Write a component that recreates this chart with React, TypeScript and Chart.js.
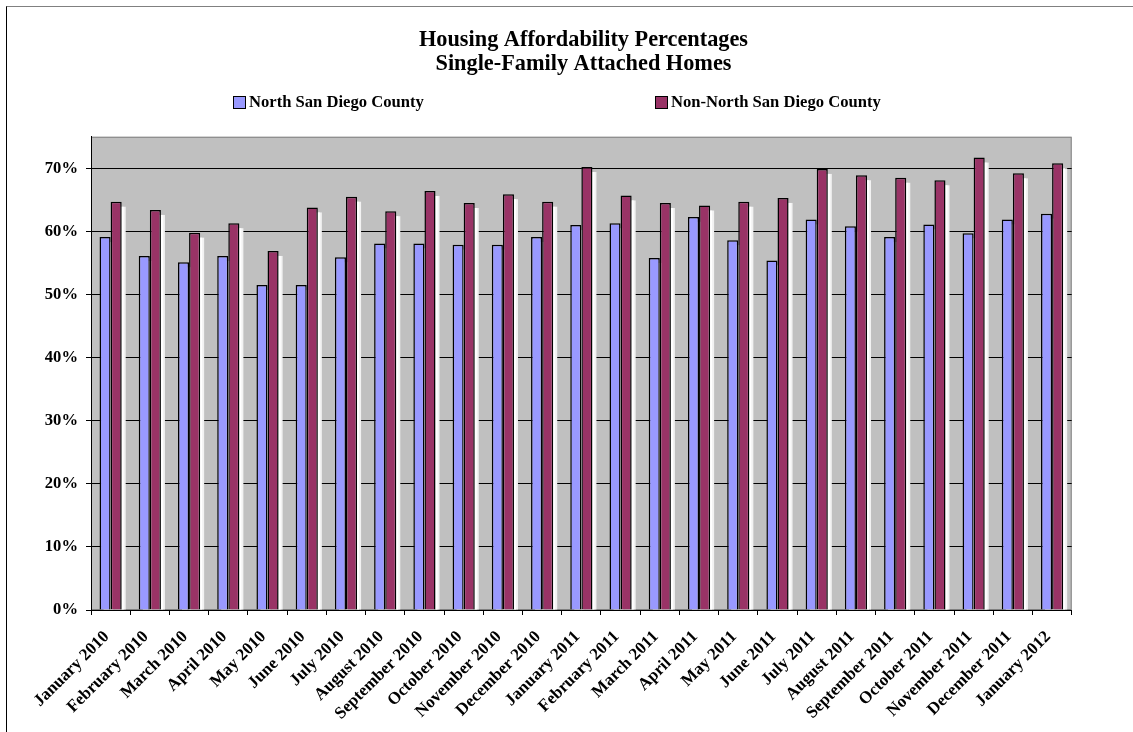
import React, { useEffect, useRef } from "react";
import { Chart, registerables } from "chart.js";

Chart.register(...registerables);

const categories = [
  "January 2010", "February 2010", "March 2010", "April 2010", "May 2010", "June 2010",
  "July 2010", "August 2010", "September 2010", "October 2010", "November 2010", "December 2010",
  "January 2011", "February 2011", "March 2011", "April 2011", "May 2011", "June 2011",
  "July 2011", "August 2011", "September 2011", "October 2011", "November 2011", "December 2011",
  "January 2012",
];

const northValues = [
  59.1, 56.1, 55.1, 56.1, 51.5, 51.5, 55.9, 58.1, 58.1, 57.9, 57.9, 59.1,
  61.0, 61.3, 55.8, 62.3, 58.6, 55.4, 61.9, 60.8, 59.1, 61.1, 59.7, 61.9, 62.8,
];

const nonNorthValues = [
  64.7, 63.4, 59.8, 61.3, 56.9, 63.8, 65.5, 63.2, 66.4, 64.5, 65.9, 64.7,
  70.2, 65.7, 64.5, 64.1, 64.7, 65.3, 69.9, 68.9, 68.5, 68.1, 71.7, 69.2, 70.8,
];

const seriesLabels = ["North San Diego County", "Non-North San Diego County"];
const seriesColors = ["#9999FF", "#993366"];
const titleLines = ["Housing Affordability Percentages", "Single-Family Attached Homes"];

const FONT = "'Liberation Serif', 'Times New Roman', serif";

const plotBgPlugin = {
  id: "plotBg",
  beforeDraw(chart: any) {
    const { ctx, chartArea } = chart;
    if (!chartArea) return;
    ctx.save();
    ctx.fillStyle = "#C0C0C0";
    ctx.fillRect(chartArea.left, chartArea.top, chartArea.right - chartArea.left, chartArea.bottom - chartArea.top);
    ctx.strokeStyle = "#808080";
    ctx.lineWidth = 1;
    ctx.strokeRect(chartArea.left + 0.5, chartArea.top + 0.5, chartArea.right - chartArea.left - 1, chartArea.bottom - chartArea.top - 1);
    ctx.restore();
  },
  beforeDatasetsDraw(chart: any) {
    const { ctx, chartArea } = chart;
    ctx.save();
    ctx.beginPath();
    ctx.rect(chartArea.left, chartArea.top, chartArea.right - chartArea.left, chartArea.bottom - chartArea.top);
    ctx.clip();
    chart.data.datasets.forEach((_: any, di: number) => {
      const meta = chart.getDatasetMeta(di);
      meta.data.forEach((bar: any) => {
        const w = bar.width;
        const left = bar.x - w / 2 + 4;
        const top = bar.y + 5;
        ctx.fillStyle = "#F2F2F2";
        ctx.fillRect(left, top, w, bar.base - top);
        ctx.fillStyle = "#FFFFFF";
        ctx.fillRect(left + w - 4, top, 2, bar.base - top);
      });
    });
    ctx.restore();
  },
};

export default function App() {
  const canvasRef = useRef<HTMLCanvasElement>(null);

  useEffect(() => {
    if (!canvasRef.current) return;
    const chart = new Chart(canvasRef.current, {
      type: "bar",
      data: {
        labels: categories,
        datasets: [
          {
            label: seriesLabels[0],
            data: northValues,
            backgroundColor: seriesColors[0],
            borderColor: "#000000",
            borderWidth: 1.5,
            barPercentage: 1,
            categoryPercentage: 0.565,
          },
          {
            label: seriesLabels[1],
            data: nonNorthValues,
            backgroundColor: seriesColors[1],
            borderColor: "#000000",
            borderWidth: 1.5,
            barPercentage: 1,
            categoryPercentage: 0.565,
          },
        ],
      },
      options: {
        responsive: false,
        animation: false,
        layout: { padding: { left: 0, right: 0, top: 0, bottom: 0 } },
        plugins: {
          legend: { display: false },
          tooltip: { enabled: false },
          title: {
            display: true,
            text: titleLines,
            color: "#000",
            font: { family: FONT, size: 22.3, weight: "bold", lineHeight: 1.1 },
            padding: { top: 20.5, bottom: 60.2 },
          },
        },
        scales: {
          x: {
            grid: { display: true, drawOnChartArea: false, drawTicks: true, tickLength: 5, color: "#000", offset: true },
            border: { display: true, color: "#000", width: 1 },
            ticks: {
              autoSkip: false,
              minRotation: 45,
              maxRotation: 45,
              padding: 12,
              labelOffset: -4,
              color: "#000",
              font: { family: FONT, size: 17, weight: "bold" },
            },
            afterFit(scale: any) {
              scale.height = 122;
            },
          },
          y: {
            min: 0,
            max: 75,
            grid: { color: "#000", lineWidth: 1, drawTicks: true, tickLength: 5 },
            border: { display: true, color: "#000", width: 1 },
            ticks: {
              stepSize: 10,
              includeBounds: false,
              padding: 8,
              color: "#000",
              font: { family: FONT, size: 16.6, weight: "bold" },
              callback: (v: any) => `${v}%`,
            },
            afterFit(scale: any) {
              scale.width = 84;
            },
          },
          yRight: {
            position: "right",
            display: true,
            grid: { display: false, drawOnChartArea: false },
            border: { display: false },
            ticks: { display: false },
            afterFit(scale: any) {
              scale.width = 88.3;
            },
          },
        },
      },
      plugins: [plotBgPlugin],
    } as any);
    return () => chart.destroy();
  }, []);

  const legendPositions = [233, 655];

  return (
    <div style={{ position: "fixed", left: 0, top: 0, width: "100vw", height: "100vh", overflow: "hidden", background: "#fff" }}>
      <div
        style={{
          position: "absolute",
          left: 6,
          top: 6,
          width: 1153,
          height: 740,
          borderLeft: "1px solid #000",
          borderTop: "1px solid #808080",
        }}
      >
        <canvas ref={canvasRef} width={1153} height={725} style={{ display: "block" }} />
      </div>
      {seriesLabels.map((label, i) => (
        <div
          key={label}
          style={{
            position: "absolute",
            left: legendPositions[i],
            top: 93,
            height: 18,
            display: "flex",
            alignItems: "center",
            whiteSpace: "nowrap",
            fontFamily: FONT,
            fontWeight: "bold",
            fontSize: 16.6,
            color: "#000",
          }}
        >
          <span
            style={{
              display: "inline-block",
              width: 11,
              height: 11,
              background: seriesColors[i],
              border: "1px solid #000",
              marginRight: 3,
            }}
          />
          {label}
        </div>
      ))}
    </div>
  );
}
